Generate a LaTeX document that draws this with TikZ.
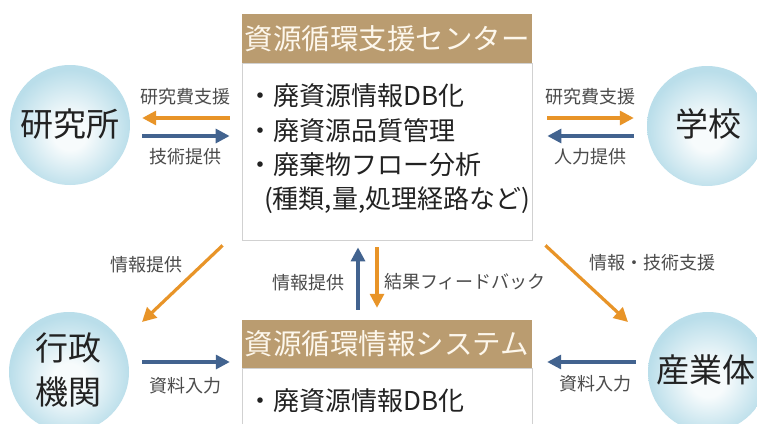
\documentclass[tikz,border=0pt]{standalone}
\usepackage{fontspec}
\setmainfont{Noto Sans CJK JP}
\usetikzlibrary{arrows.meta,calc}
\definecolor{orng}{RGB}{232,148,40}
\definecolor{blu}{RGB}{66,99,143}
\definecolor{tanc}{RGB}{186,156,112}
\definecolor{cream}{RGB}{253,247,236}
\definecolor{lblc}{RGB}{75,75,75}
\definecolor{txtc}{RGB}{34,34,34}
\definecolor{ballin}{RGB}{247,251,252}
\definecolor{ballout}{RGB}{186,222,234}
\pgfdeclareradialshading{ballshade}{\pgfpoint{0bp}{-4bp}}{color(0bp)=(ballin); color(7bp)=(ballin); color(25bp)=(ballout); color(50bp)=(ballout)}
\begin{document}
\begin{tikzpicture}[x=1pt,y=-1pt,
  hdr/.style={fill=tanc, minimum width=290pt, minimum height=49pt, inner sep=0pt, text=cream, font=\fontsize{28.5}{28.5}\selectfont},
  bodybox/.style={draw=black!18, fill=white, line width=0.8pt, minimum width=290pt, inner sep=0pt},
  ball/.style={circle, shading=ballshade, minimum size=120pt, inner sep=0pt},
  balltext/.style={font=\fontsize{33}{44}\selectfont, text=txtc, align=center},
  btxt/.style={font=\fontsize{26}{26}\selectfont, text=txtc, inner sep=0pt, anchor=base west},
  lbl/.style={font=\fontsize{18}{18}\selectfont, text=lblc, inner sep=0pt},
  oarw/.style={draw=orng, line width=3.2pt, -{Triangle[length=14pt,width=14pt]}},
  barw/.style={draw=blu, line width=3.2pt, -{Triangle[length=14pt,width=14pt]}}]
\useasboundingbox (0,0) rectangle (757,423);
\clip (0,0) rectangle (757,423);
\fill[white] (0,0) rectangle (757,423);

% circles
\node[ball] (ken) at (70,125) {};
\node[ball] (gak) at (707,126) {};
\node[ball] (gyo) at (69,372) {};
\node[ball] (san) at (708,372) {};
\node[balltext] (kent) at (70,124) {研究所};
\node[balltext] (gakt) at (708,124) {学校};
\node[balltext] (gyot) at (68,370) {行政\\機関};
\node[balltext] (sant) at (706,370) {産業体};

% center box
\node[bodybox, minimum height=177pt] (cbody) at (387,151.5) {};
\node[hdr] (chead) at (387,38.5) {資源循環支援センター};
\node[btxt] (c1) at (247,105) {・廃資源情報DB化};
\node[btxt] (c2) at (247,140) {・廃資源品質管理};
\node[btxt] (c3) at (247,174) {・廃棄物フロー分析};
\node[btxt] (c4) at (264,208) {(種類,量,処理経路など)};

% system box
\node[bodybox, minimum height=100pt] (sbody) at (387,418) {};
\node[hdr, minimum height=48pt] (shead) at (387,344) {資源循環情報システム};
\node[btxt] (s1) at (247,410) {・廃資源情報DB化};

% arrows top
\draw[oarw, shorten <=12pt, shorten >=12pt] (cbody.west |- 0,118) -- (ken.east |- 0,118);
\draw[barw, shorten <=12pt, shorten >=12pt] (ken.east |- 0,136) -- (cbody.west |- 0,136);
\draw[oarw, shorten <=15pt, shorten >=13pt] (cbody.east |- 0,118) -- (gak.west |- 0,118);
\draw[barw, shorten <=13pt, shorten >=15pt] (gak.west |- 0,136) -- (cbody.east |- 0,136);

% diagonals
\draw[oarw] ($(cbody.south west)+(-19,5)$) -- ($(gyo.center)+(73,-50)$);
\draw[oarw] ($(cbody.south east)+(13,5)$) -- ($(san.center)+(-80,-50)$);

% verticals
\draw[barw] ($(shead.north)+(-29,-10)$) -- ($(cbody.south)+(-29,7)$);
\draw[oarw] ($(cbody.south)+(-10,7)$) -- ($(shead.north)+(-10,-12)$);

% bottom
\draw[barw, shorten <=13pt, shorten >=12pt] (gyo.east |- 0,362) -- (shead.west |- 0,362);
\draw[barw, shorten <=12pt, shorten >=15pt] (san.west |- 0,362) -- (shead.east |- 0,362);

% labels
\node[lbl] (l1) at (185,97) {研究費支援};
\node[lbl] (l2) at (185,157) {技術提供};
\node[lbl] (l3) at (590,97) {研究費支援};
\node[lbl] (l4) at (590,157) {人力提供};
\node[lbl] (l5) at (146,265) {情報提供};
\node[lbl] (l6) at (652,263) {情報・技術支援};
\node[lbl] (l7) at (308,283) {情報提供};
\node[lbl] (l8) at (465,282) {結果フィードバック};
\node[lbl] (l9) at (185,386) {資料入力};
\node[lbl] (l10) at (595,384) {資料入力};
\end{tikzpicture}
\end{document}
